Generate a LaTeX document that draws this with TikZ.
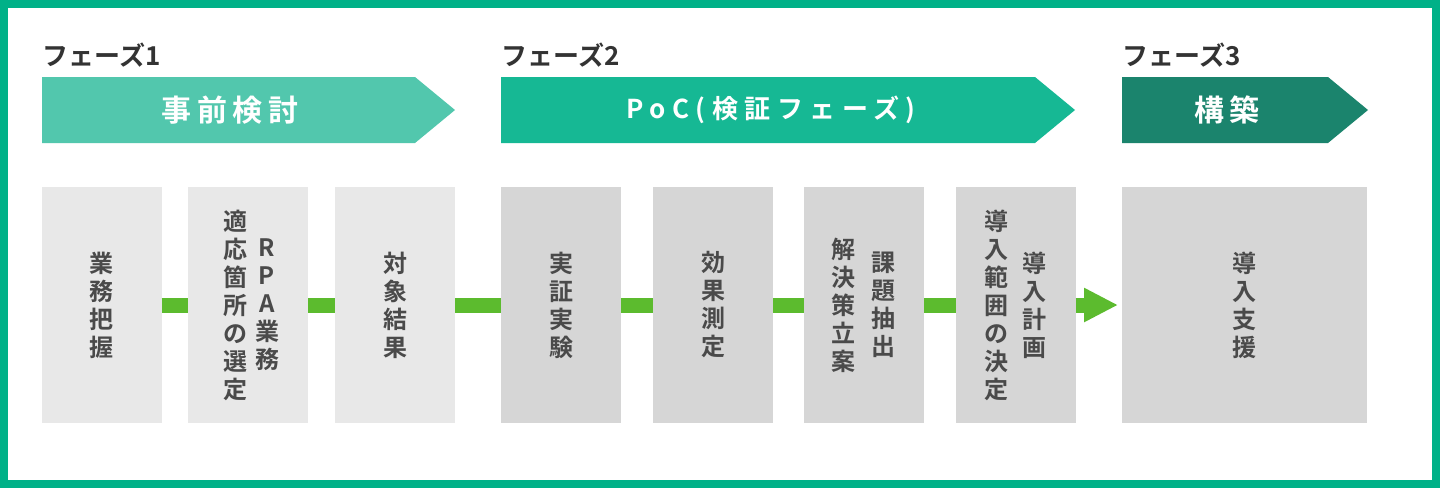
\documentclass[tikz,border=0pt]{standalone}
\usepackage{fontspec}
\newfontfamily\jpfont{Noto Sans CJK JP Bold}
\newfontfamily\jpwide{Noto Sans CJK JP Bold}[LetterSpace=18]
\newfontfamily\jpwider{Noto Sans CJK JP Bold}[LetterSpace=25]
\usetikzlibrary{arrows.meta}

\definecolor{frame}{HTML}{00B188}
\definecolor{banA}{HTML}{52C7AD}
\definecolor{banB}{HTML}{16B894}
\definecolor{banC}{HTML}{1B846D}
\definecolor{boxA}{HTML}{E8E8E8}
\definecolor{boxB}{HTML}{D6D6D6}
\definecolor{linkgreen}{HTML}{5CBB2E}
\definecolor{txt}{HTML}{4A4A4A}

\begin{document}
\begin{tikzpicture}[x=0.5pt,y=-0.5pt,
    box/.style={inner sep=0pt, outer sep=0pt, minimum width=60pt, minimum height=118pt},
    vtext/.style={align=center, inner sep=0pt, text=txt,
      font=\jpfont\fontsize{12pt}{14pt}\selectfont},
    phase/.style={anchor=west, inner sep=0pt, text=black!80,
      font=\jpfont\fontsize{13pt}{15pt}\selectfont},
    bantext/.style={inner sep=0pt, text=white,
      font=\jpwide\fontsize{15pt}{18pt}\selectfont},
    link/.style={line width=7.5pt, draw=linkgreen}]

    % Frame
    \fill[frame] (0,0) rectangle (1440,488);
    \fill[white] (8,8) rectangle (1432,480);

    % Phase 1
    \node[phase] (lab1) at (42,55) {フェーズ1};
    \fill[banA] (42,77) -- (415,77) -- (455,110) -- (415,143) -- (42,143) -- cycle;
    \node[bantext] (ph1) at (230,110) {事前検討};

    % Phase 2
    \node[phase] (lab2) at (501,55) {フェーズ2};
    \fill[banB] (501,77) -- (1035,77) -- (1075,110) -- (1035,143) -- (501,143) -- cycle;
    \node[bantext, font=\jpwider\fontsize{13pt}{15pt}\selectfont] (ph2) at (771,110) {PoC(検証フェーズ)};

    % Phase 3
    \node[phase] (lab3) at (1122,55) {フェーズ3};
    \fill[banC] (1122,77) -- (1328,77) -- (1368,110) -- (1328,143) -- (1122,143) -- cycle;
    \node[bantext] (ph3) at (1227,110) {構築};

    % Steps
    \node[box, fill=boxA] (b1) at (101.5,305) {};
    \node[box, fill=boxA] (b2) at (248,305) {};
    \node[box, fill=boxA] (b3) at (395,305) {};
    \node[box, fill=boxB] (b4) at (561,305) {};
    \node[box, fill=boxB] (b5) at (713,305) {};
    \node[box, fill=boxB] (b6) at (864,305) {};
    \node[box, fill=boxB] (b7) at (1015.5,305) {};
    \node[box, fill=boxB, minimum width=122.5pt] (b8) at (1244.5,305) {};

    % Connectors
    \draw[link] (b1) -- (b2);
    \draw[link] (b2) -- (b3);
    \draw[link] (b3) -- (b4);
    \draw[link] (b4) -- (b5);
    \draw[link] (b5) -- (b6);
    \draw[link] (b6) -- (b7);
    \draw[link, -{Triangle[length=17pt, width=16pt]}, shorten >=2pt] (b7) -- (b8);

    % Step texts (vertical)
    \node[vtext] (t1) at (b1.center) {業\\務\\把\\握};
    \node[vtext] (t2a) at ([xshift=-6.5pt]b2.center) {適\\応\\箇\\所\\の\\選\\定};
    \node[vtext] (t2b) at ([xshift=9.5pt]b2.center) {R\\P\\A\\業\\務};
    \node[vtext] (t3) at (b3.center) {対\\象\\結\\果};
    \node[vtext] (t4) at (b4.center) {実\\証\\実\\験};
    \node[vtext] (t5) at (b5.center) {効\\果\\測\\定};
    \node[vtext] (t6a) at ([xshift=-10.5pt]b6.center) {解\\決\\策\\立\\案};
    \node[vtext] (t6b) at ([xshift=9.5pt]b6.center) {課\\題\\抽\\出};
    \node[vtext] (t7a) at ([xshift=-9.5pt]b7.center) {導\\入\\範\\囲\\の\\決\\定};
    \node[vtext] (t7b) at ([xshift=9.5pt]b7.center) {導\\入\\計\\画};
    \node[vtext] (t8) at (b8.center) {導\\入\\支\\援};
\end{tikzpicture}
\end{document}
